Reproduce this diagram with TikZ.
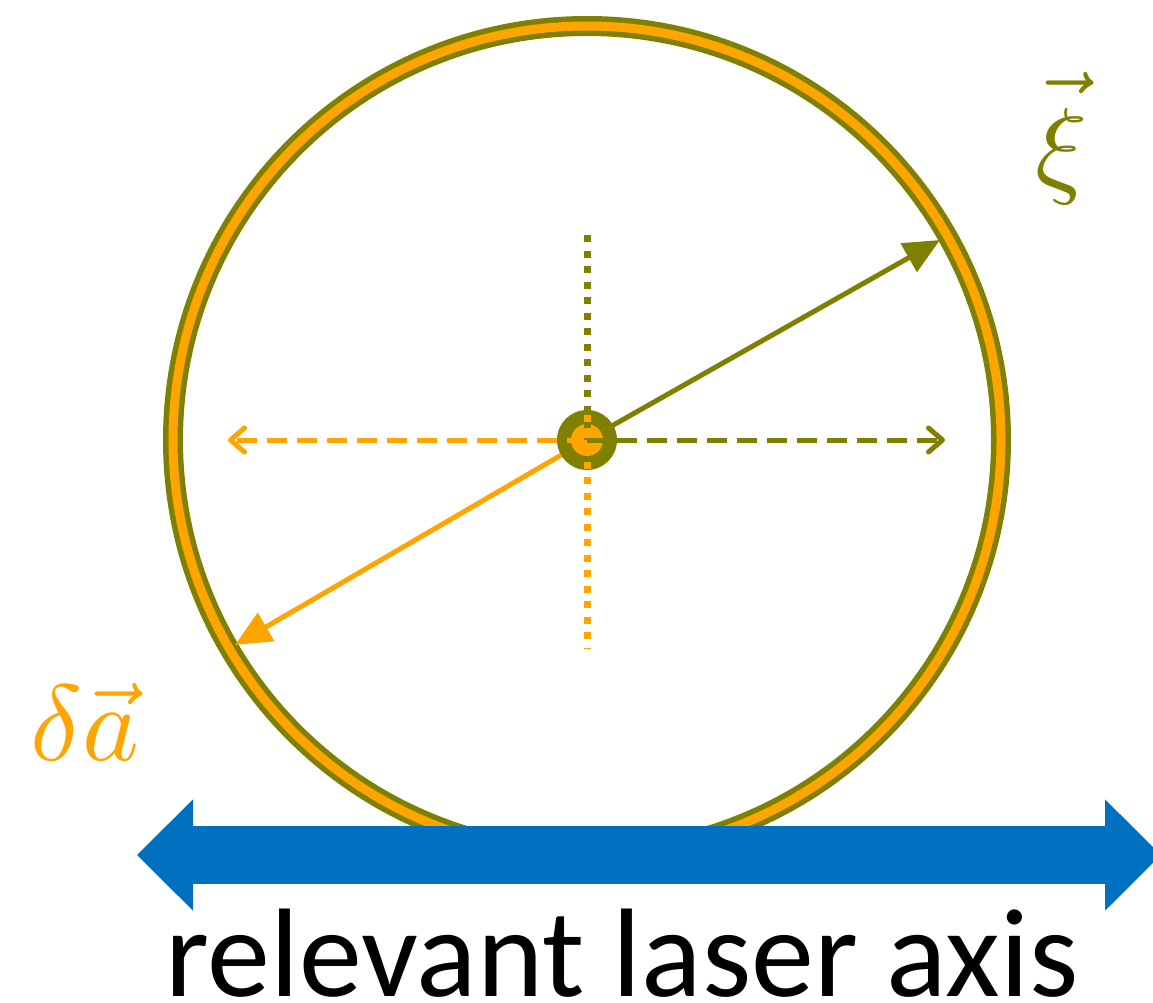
\documentclass[tikz,border=0pt]{standalone}
\usepackage{fontspec}
\setsansfont{Carlito}
\usetikzlibrary{arrows.meta}
\definecolor{oliv}{RGB}{128,128,0}
\definecolor{orng}{RGB}{255,165,0}
\definecolor{lblue}{RGB}{0,112,192}
\tikzset{
  ringouter/.style={draw=oliv, line width=20pt},
  ringinner/.style={draw=orng, line width=9pt},
  diag/.style={line width=5pt, -{Triangle[length=36pt,width=32pt]}},
  dashedarrow/.style={line width=5pt, dash pattern=on 20pt off 10pt, -{Straight Barb[length=14pt,width=24pt,line cap=round,line join=round]}},
  dottedline/.style={line width=7pt, dash pattern=on 7pt off 8.5pt},
  axisarrow/.style={draw=lblue, line width=58pt, {Triangle[length=56pt,width=108pt]}-{Triangle[length=56pt,width=108pt]}},
  biglabel/.style={inner sep=0pt, font=\fontsize{10}{12}\selectfont, scale=10.8},
}
\begin{document}
\begin{tikzpicture}[x=1pt,y=-1pt]
\useasboundingbox (0,0) rectangle (1153,1003);
\coordinate (c) at (587,440);
% ring
\draw[ringouter] (c) circle[radius=414];
\draw[ringinner] (c) circle[radius=414];
% diagonal arrows
\coordinate (xitip) at (940,240);
\coordinate (datip) at (235,645);
\draw[diag, draw=oliv, fill=oliv] (c) -- (xitip);
\draw[diag, draw=orng, fill=orng] (c) -- (datip);
% central discs
\fill[oliv] (c) circle[radius=30];
\fill[orng] (c) circle[radius=16];
% dashed arrows
\coordinate (lefttip) at (228,440);
\coordinate (righttip) at (945,440);
\draw[dashedarrow, orng] (c) -- (lefttip);
\draw[dashedarrow, oliv] (c) -- (righttip);
% dotted lines
\coordinate (vtop) at (587,235);
\coordinate (vbot) at (587,648);
\draw[dottedline, oliv] (vtop) -- (c);
\draw[dottedline, orng] ([yshift=25]c) -- (vbot);
% labels
\node[oliv, biglabel, anchor=base] (xi) at (1062,184) {$\vec{\xi\mathstrut}$};
\node[orng, biglabel, anchor=base west] (da) at (28,760) {$\delta\vec{a}$};
% laser axis
\coordinate (axL) at (137,855);
\coordinate (axR) at (1161,855);
\draw[axisarrow] (axL) -- (axR);
\node[anchor=base, inner sep=0pt, font=\sffamily\fontsize{126}{130}\selectfont] (lbl) at (622,996) {relevant laser axis};
\end{tikzpicture}
\end{document}
